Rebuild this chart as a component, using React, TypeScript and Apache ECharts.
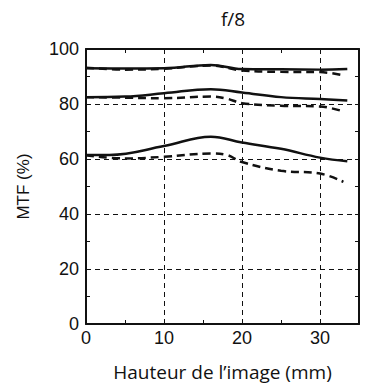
import React, { useEffect, useRef } from "react";
import * as echarts from "echarts";

const xTop = [0, 5, 10, 16, 20, 25, 30, 33.5];
const topSolid = [93.0, 92.9, 93.0, 94.2, 92.7, 92.6, 92.5, 92.7];
const topDashedX = [0, 5, 10, 16, 20, 25, 30, 33];
const topDashed = [93.2, 92.5, 92.8, 94.0, 92.2, 91.7, 91.6, 90.4];

const midSolidX = [0, 5, 10, 16, 20, 25, 30, 33.5];
const midSolid = [82.5, 82.7, 83.9, 85.4, 84.2, 82.5, 81.8, 81.3];
const midDashedX = [0, 5, 10, 16, 18, 20, 25, 30, 33];
const midDashed = [82.5, 82.3, 82.1, 82.7, 82.0, 80.3, 79.4, 79.1, 77.3];

const lowSolidX = [0, 3, 10, 16, 20, 25, 30, 33.5];
const lowSolid = [61.5, 61.5, 64.7, 68.1, 66.0, 63.7, 60.5, 59.2];
const lowDashedX = [0, 5, 10, 16, 18, 20, 25, 30, 33];
const lowDashed = [61.4, 60.2, 60.8, 62.0, 61.5, 58.9, 55.7, 54.7, 51.7];

const zip = (xs: number[], ys: number[]) => xs.map((x, i) => [x, ys[i]]);

export default function App() {
  const ref = useRef<HTMLDivElement>(null);
  useEffect(() => {
    const chart = echarts.init(ref.current!, null, { renderer: "svg" });
    const axisFont = "Liberation Sans";
    const nameFont = "Open Sans";
    const ink = "#111";
    const line = (data: number[][], dashed: boolean) => ({
      type: "line",
      data,
      smooth: 0.4,
      symbol: "none",
      lineStyle: {
        color: ink,
        width: 2.5,
        type: dashed ? [8, 5] : "solid",
      },
    });
    const tickStyle = {
      axisLine: { show: true, onZero: false, lineStyle: { color: ink, width: 2 } },
      axisTick: { show: true, inside: true, length: 4, lineStyle: { color: ink } },
      minorTick: { show: true, splitNumber: 2, length: 4, lineStyle: { color: ink } },
    };
    const xCommon = { type: "value", min: 0, max: 35, interval: 10, ...tickStyle };
    const yCommon = { type: "value", min: 0, max: 100, interval: 20, ...tickStyle };
    chart.setOption({
      animation: false,
      title: {
        text: "f/8",
        left: 228,
        top: 4,
        textAlign: "center",
        textStyle: { fontFamily: nameFont, fontSize: 19, fontWeight: "normal", color: ink },
      },
      grid: { left: 86, right: 7, top: 49, bottom: 60 },
      xAxis: [
        {
          ...xCommon,
          position: "bottom",
          name: "Hauteur de l\u2019image (mm)",
          nameLocation: "middle",
          nameGap: 38,
          nameTextStyle: { fontFamily: nameFont, fontSize: 19, color: ink },
          axisLabel: {
            showMaxLabel: false,
            fontFamily: axisFont,
            fontSize: 18,
            color: ink,
            margin: 5,
            formatter: (v: number) => (v === 35 ? "" : String(v)),
          },
          splitLine: { show: true, lineStyle: { color: ink, type: [5, 4], width: 1 } },
        },
        {
          ...xCommon,
          position: "top",
          axisLabel: { show: false },
          splitLine: { show: false },
        },
      ],
      yAxis: [
        {
          ...yCommon,
          position: "left",
          name: "MTF (%)",
          nameLocation: "middle",
          nameGap: 54,
          nameTextStyle: { fontFamily: axisFont, fontSize: 17, color: ink },
          axisLabel: { fontFamily: axisFont, fontSize: 18, color: ink, margin: 7 },
          splitLine: { show: true, lineStyle: { color: ink, type: [5, 4], width: 1 } },
        },
        {
          ...yCommon,
          position: "right",
          axisLabel: { show: false },
          splitLine: { show: false },
        },
      ],
      series: [
        line(zip(xTop, topSolid), false),
        line(zip(topDashedX, topDashed), true),
        line(zip(midSolidX, midSolid), false),
        line(zip(midDashedX, midDashed), true),
        line(zip(lowSolidX, lowSolid), false),
        line(zip(lowDashedX, lowDashed), true),
      ],
    });
    return () => chart.dispose();
  }, []);
  return <div ref={ref} style={{ width: 366, height: 386, position: "absolute", left: 0, top: 0 }} />;
}
